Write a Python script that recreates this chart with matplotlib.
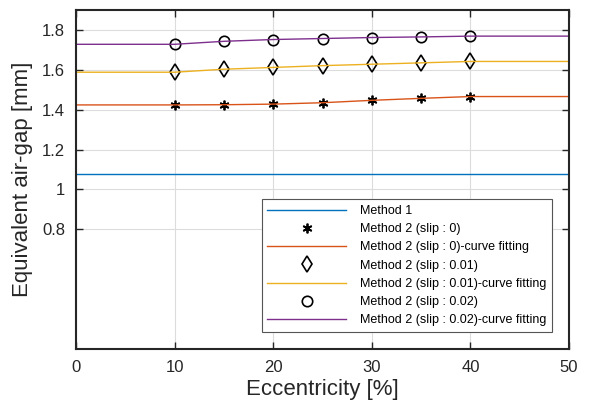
import numpy as np
import matplotlib.pyplot as plt

plt.rcParams['font.family'] = ['Liberation Sans', 'DejaVu Sans']

# data
ecc = [10, 15, 20, 25, 30, 35, 40]
slip0 = [1.424, 1.425, 1.428, 1.435, 1.447, 1.457, 1.466]
slip1 = [1.588, 1.603, 1.612, 1.621, 1.628, 1.635, 1.642]
slip2 = [1.728, 1.743, 1.752, 1.757, 1.762, 1.765, 1.769]
method1 = 1.078

# curve fits: flat before 10 and after 40
fit_x = [0] + ecc + [50]
fit0 = [slip0[0]] + slip0 + [slip0[-1]]
fit1 = [slip1[0]] + slip1 + [slip1[-1]]
fit2 = [slip2[0]] + slip2 + [slip2[-1]]

c_blue = '#0072BD'
c_orange = '#D95319'
c_yellow = '#EDB120'
c_purple = '#7E2F8E'
txt = '#262626'

fig = plt.figure(figsize=(5.91, 4.11), dpi=100)
ax = fig.add_axes([76 / 591, 1 - 349 / 411, 493 / 591, 339 / 411])

ax.plot([0, 50], [method1, method1], color=c_blue, lw=1, label='Method 1')
ax.plot(ecc, slip0, ls='none', marker=(6, 2, 0), ms=7, mec='black', mew=1.3,
        label='Method 2 (slip : 0)')
ax.plot(fit_x, fit0, color=c_orange, lw=1, label='Method 2 (slip : 0)-curve fitting')
ax.plot(ecc, slip1, ls='none', marker='d', ms=8.5, mfc='none', mec='black', mew=1.2,
        label='Method 2 (slip : 0.01)')
ax.plot(fit_x, fit1, color=c_yellow, lw=1, label='Method 2 (slip : 0.01)-curve fitting')
ax.plot(ecc, slip2, ls='none', marker='o', ms=7.5, mfc='none', mec='black', mew=1.2,
        label='Method 2 (slip : 0.02)')
ax.plot(fit_x, fit2, color=c_purple, lw=1, label='Method 2 (slip : 0.02)-curve fitting')

ax.set_xlim(0, 50)
ax.set_ylim(0.2, 1.9)
ax.set_xticks([0, 10, 20, 30, 40, 50])
ax.set_yticks([0.8, 1.0, 1.2, 1.4, 1.6, 1.8])
ax.set_yticklabels(['0.8', '1', '1.2', '1.4', '1.6', '1.8'])
ax.grid(True, color='#dcdcdc', lw=0.8)
ax.set_axisbelow(True)
ax.tick_params(direction='in', length=5, width=1, labelsize=12, colors=txt,
               top=True, right=True, pad=8)
for s in ax.spines.values():
    s.set_linewidth(1.5)
    s.set_color(txt)

ax.set_xlabel('Eccentricity [%]', fontsize=16, color=txt, labelpad=3)
ax.set_ylabel('Equivalent air-gap [mm]', fontsize=16, color=txt, labelpad=6)

leg = ax.legend(loc='lower right', bbox_to_anchor=(0.9655, 0.050), borderaxespad=0,
                fontsize=9, handlelength=6.3, handletextpad=1.1, labelspacing=0.5,
                borderpad=0.45, fancybox=False, framealpha=1)
leg.get_frame().set_edgecolor('#555555')
leg.get_frame().set_linewidth(0.8)

plt.savefig('out.png', dpi=100)
